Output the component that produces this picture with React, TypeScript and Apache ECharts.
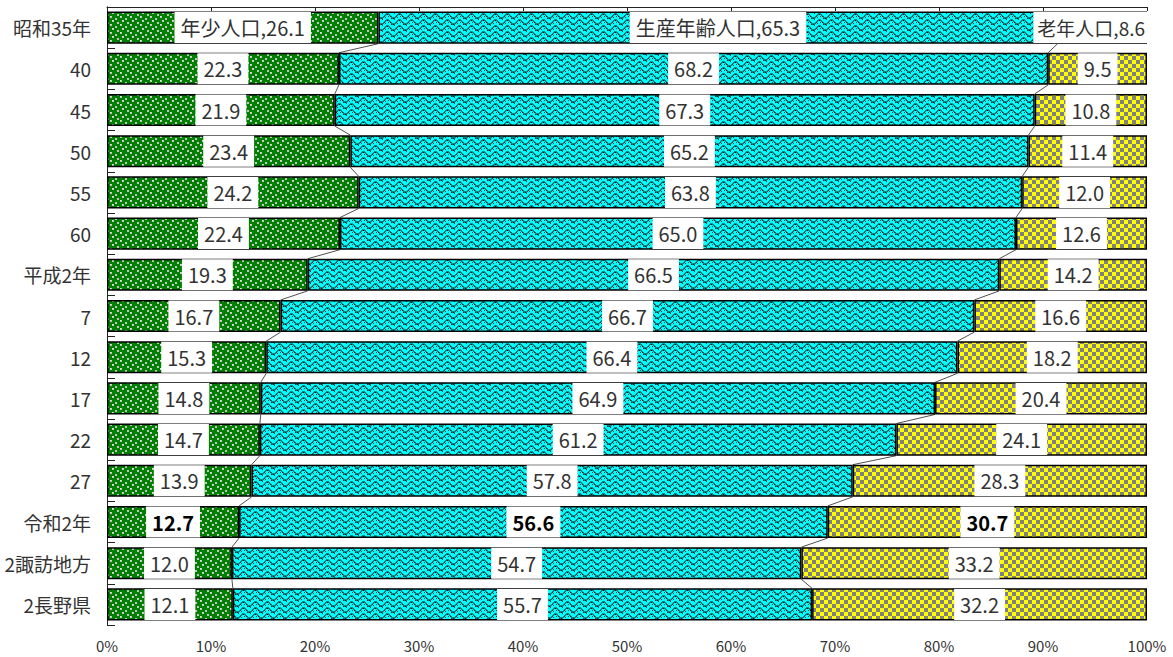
import React, { useEffect, useRef } from "react";
import * as echarts from "echarts";

const categories = ["昭和35年", "40", "45", "50", "55", "60", "平成2年", "7", "12", "17", "22", "27", "令和2年", "2諏訪地方", "2長野県"];
const youth = [26.1, 22.3, 21.9, 23.4, 24.2, 22.4, 19.3, 16.7, 15.3, 14.8, 14.7, 13.9, 12.7, 12.0, 12.1];
const working = [65.3, 68.2, 67.3, 65.2, 63.8, 65.0, 66.5, 66.7, 66.4, 64.9, 61.2, 57.8, 56.6, 54.7, 55.7];
const elderly = [8.6, 9.5, 10.8, 11.4, 12.0, 12.6, 14.2, 16.6, 18.2, 20.4, 24.1, 28.3, 30.7, 33.2, 32.2];
const seriesNames = ["年少人口", "生産年齢人口", "老年人口"];
const boldRow = "令和2年";

const FONT = "'Noto Sans CJK JP', 'Noto Sans', sans-serif";

function makeTile(w: number, h: number, draw: (ctx: CanvasRenderingContext2D) => void) {
  const c = document.createElement("canvas");
  c.width = w;
  c.height = h;
  const ctx = c.getContext("2d")!;
  draw(ctx);
  return { image: c, repeat: "repeat", imageWidth: w, imageHeight: h } as any;
}

function greenPattern() {
  return makeTile(10, 8, (ctx) => {
    ctx.fillStyle = "#008000";
    ctx.fillRect(0, 0, 10, 8);
    ctx.fillStyle = "#c4c4c4";
    [[0, 0], [5, 2], [2, 4], [7, 6]].forEach(([x, y]) => ctx.fillRect(x, y, 2, 2));
    ctx.fillStyle = "#e6e6e6";
    [[0, 0], [2, 4]].forEach(([x, y]) => ctx.fillRect(x, y, 1, 1));
  });
}

function cyanPattern() {
  return makeTile(12, 6, (ctx) => {
    ctx.fillStyle = "#00ffff";
    ctx.fillRect(0, 0, 12, 6);
    const wave = [3, 2, 1, 1, 1, 2, 3, 4, 5, 5, 5, 4];
    wave.forEach((y, x) => {
      ctx.fillStyle = "#008b8b";
      ctx.fillRect(x, y % 6, 1, 1);
      ctx.fillStyle = x % 3 === 0 ? "#102020" : "#2a6a70";
      ctx.fillRect(x, (y + 1) % 6, 1, 1);
    });
    ctx.fillStyle = "#203838";
    [[1, 5], [7, 0], [4, 4], [10, 1]].forEach(([x, y]) => ctx.fillRect(x, y, 1, 1));
  });
}

function yellowPattern() {
  return makeTile(8, 8, (ctx) => {
    ctx.fillStyle = "#ffff00";
    ctx.fillRect(0, 0, 8, 8);
    ctx.fillStyle = "#808080";
    ctx.fillRect(4, 0, 4, 4);
    ctx.fillRect(0, 4, 4, 4);
  });
}

const BAR_RATIO = 0.78;

export default function App() {
  const ref = useRef<HTMLDivElement>(null);

  useEffect(() => {
    if (!ref.current) return;
    const chart = echarts.init(ref.current, undefined, { renderer: "svg" });

    const sums = categories.map((_, i) => youth[i] + working[i] + elderly[i]);
    const norm = (arr: number[]) => arr.map((v, i) => (v / sums[i]) * 100);
    const nY = norm(youth);
    const nW = norm(working);
    const nE = norm(elderly);
    const raw = [youth, working, elderly];
    const normed = [nY, nW, nE];
    const patterns = [greenPattern(), cyanPattern(), yellowPattern()];

    const barSeries = seriesNames.map((name, s) => ({
      name,
      type: "bar",
      stack: "total",
      barWidth: BAR_RATIO * 100 + "%",
      itemStyle: { color: patterns[s], borderColor: "#000", borderWidth: 1.5 },
      data: normed[s].map((v, i) => {
        const isBold = categories[i] === boldRow;
        const txt = i === 0 ? `${name},${raw[s][i].toFixed(1)}` : raw[s][i].toFixed(1);
        const edgeLabel = i === 0 && s === 2;
        return {
          value: v,
          label: {
            show: true,
            position: edgeLabel ? "insideRight" : "inside",
            distance: edgeLabel ? 0 : 5,
            formatter: txt,
            backgroundColor: "#fff",
            padding: edgeLabel ? [5, 2, 5, 4] : [5, 6, 5, 6],
            fontSize: edgeLabel ? 19 : 20,
            lineHeight: 21,
            fontFamily: FONT,
            fontWeight: isBold ? "bold" : "normal",
            color: isBold ? "#000" : "#333",
          },
        };
      }),
    }));

    const lineData = categories.slice(0, -1).map((_, i) => [
      nY[i],
      nY[i + 1],
      nY[i] + nW[i],
      nY[i + 1] + nW[i + 1],
      i,
    ]);

    const option: any = {
      animation: false,
      backgroundColor: "#fff",
      grid: { left: 107, right: 26, top: 7, bottom: 32, containLabel: false },
      xAxis: [
        {
          type: "value",
          min: 0,
          max: 100,
          interval: 10,
          position: "bottom",
          axisLine: { show: false },
          axisTick: { show: false },
          splitLine: { show: false },
          axisLabel: {
            formatter: "{value}%",
            fontSize: 15,
            fontFamily: FONT,
            color: "#333",
            margin: 13,
          },
        },
        {
          type: "value",
          min: 0,
          max: 100,
          interval: 10,
          position: "top",
          axisLine: { show: true, lineStyle: { color: "#222", width: 1 } },
          axisTick: { show: true, inside: true, length: 4, lineStyle: { color: "#222" } },
          axisLabel: { show: false },
          splitLine: { show: false },
        },
      ],
      yAxis: [
        {
          type: "category",
          data: categories,
          inverse: true,
          axisLine: { show: true, lineStyle: { color: "#222", width: 1 } },
          axisTick: { show: true, inside: true, length: 8, lineStyle: { color: "#222" } },
          axisLabel: { fontSize: 19, fontFamily: FONT, color: "#333", margin: 16 },
        },
        {
          type: "category",
          data: categories,
          inverse: true,
          position: "right",
          axisLine: { show: true, lineStyle: { color: "#222", width: 1 } },
          axisTick: { show: false },
          axisLabel: { show: false },
        },
      ],
      series: [
        ...barSeries,
        {
          type: "custom",
          name: "series-lines",
          xAxisIndex: 0,
          yAxisIndex: 0,
          encode: { x: [0, 1, 2, 3], y: 4 },
          data: lineData,
          silent: true,
          z: 1,
          renderItem: (params: any, api: any) => {
            const i = api.value(4);
            const bandH = api.size([0, 1])[1];
            const half = (bandH * BAR_RATIO) / 2;
            const mk = (a: number, b: number) => {
              const p0 = api.coord([api.value(a), i]);
              const p1 = api.coord([api.value(b), i + 1]);
              return {
                type: "line",
                shape: { x1: p0[0], y1: p0[1] + half, x2: p1[0], y2: p1[1] - half },
                style: { stroke: "#505050", lineWidth: 1 },
              };
            };
            return { type: "group", children: [mk(0, 1), mk(2, 3)] };
          },
        },
      ],
    };

    chart.setOption(option);
    return () => chart.dispose();
  }, []);

  return (
    <div
      ref={ref}
      style={{ position: "fixed", left: 0, top: 0, width: 1173, height: 657, background: "#fff" }}
    />
  );
}
